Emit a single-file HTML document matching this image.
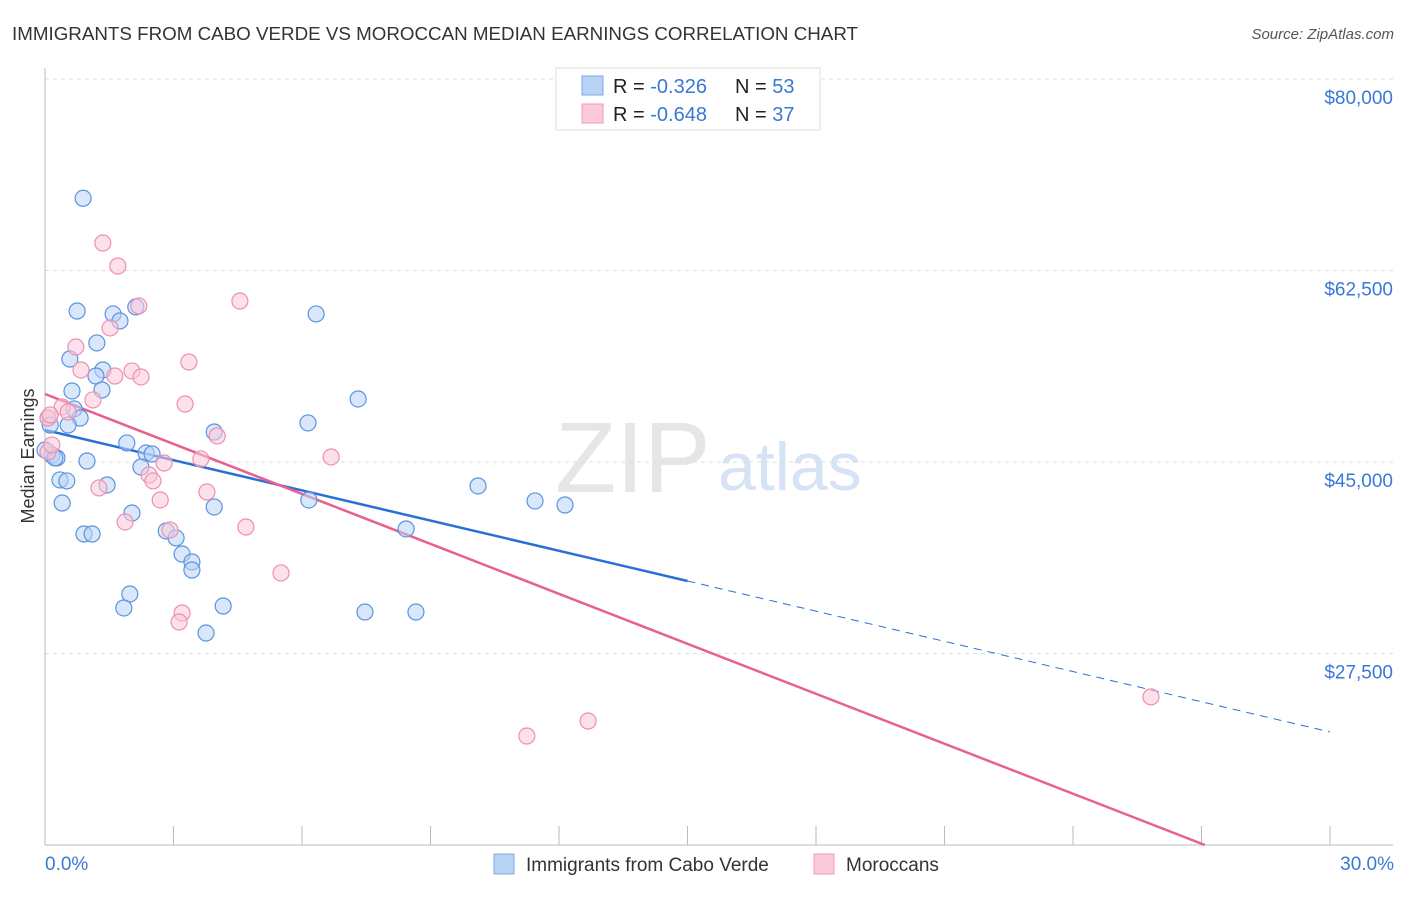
<!DOCTYPE html>
<html><head><meta charset="utf-8"><style>
body{margin:0;background:#fff;font-family:"Liberation Sans",sans-serif;}
svg text{font-family:"Liberation Sans",sans-serif;}
</style></head><body>
<svg id="chart" width="1406" height="892" xmlns="http://www.w3.org/2000/svg">
<text x="12" y="40" font-size="18" fill="#333" textLength="846" lengthAdjust="spacingAndGlyphs">IMMIGRANTS FROM CABO VERDE VS MOROCCAN MEDIAN EARNINGS CORRELATION CHART</text>
<text x="1394" y="39" font-size="15" fill="#555" font-style="italic" text-anchor="end">Source: ZipAtlas.com</text>
<text x="34" y="456" font-size="18" fill="#333" text-anchor="middle" transform="rotate(-90 34 456)">Median Earnings</text>
<text x="555" y="492" font-size="100" fill="#e6e6e6" font-family="Liberation Serif">ZIP</text>
<text x="718" y="490" font-size="68" fill="#d6e3f4">atlas</text>
<g id="grid"></g><g id="axes"></g><g id="lines"></g><g id="pts"></g>
<g>
<rect x="556" y="68" width="264" height="62" fill="#fff" stroke="#ddd"/>
<rect x="582" y="76" width="21" height="19" fill="#b9d3f5" stroke="#7aa7e6"/>
<rect x="582" y="104" width="21" height="19" fill="#fbc9d8" stroke="#f09ab5"/>
<text x="613" y="93" font-size="20" fill="#222">R = <tspan fill="#3a78d6">-0.326</tspan><tspan x="735">N = </tspan><tspan fill="#3a78d6">53</tspan></text>
<text x="613" y="121" font-size="20" fill="#222">R = <tspan fill="#3a78d6">-0.648</tspan><tspan x="735">N = </tspan><tspan fill="#3a78d6">37</tspan></text>
</g>
<g>
<rect x="494" y="854" width="20" height="20" fill="#b9d3f5" stroke="#7aa7e6"/>
<text x="526" y="871" font-size="19" fill="#333">Immigrants from Cabo Verde</text>
<rect x="814" y="854" width="20" height="20" fill="#fbc9d8" stroke="#f09ab5"/>
<text x="846" y="871" font-size="19" fill="#333">Moroccans</text>
</g>
<text x="45" y="870" font-size="19" fill="#3a78d6">0.0%</text>
<text x="1394" y="870" font-size="19" fill="#3a78d6" text-anchor="end">30.0%</text>
</svg>
<script>
const yTicks=[80000,62500,45000,27500];
const yTickLabels=["$80,000","$62,500","$45,000","$27,500"];
const blueX=[0.89,0.75,1.59,1.75,2.12,6.33,1.21,0.58,1.35,1.19,0.63,1.33,0.68,0.82,0.07,7.31,6.14,3.95,1.91,0.16,0.28,0.98,2.36,2.50,2.24,0.35,0.51,1.45,0.40,6.16,3.95,2.03,10.11,11.44,12.14,8.43,0.91,1.10,2.83,3.06,3.20,3.43,3.43,1.98,1.84,4.16,7.47,8.66,3.76,0.0,0.23,0.12,0.54];
const blueY=[69100,58800,58530,57890,59170,58530,55880,54410,53410,52860,51490,51580,49850,49020,49020,50760,48570,47740,46740,45640,45370,45090,45820,45730,44540,43360,43270,42900,41250,41530,40890,40340,42810,41440,41070,38880,38420,38420,38700,38060,36590,35860,35130,32940,31660,31840,31290,31290,29370,46100,45370,48380,48380];
const pinkX=[1.35,1.70,2.19,4.55,1.52,0.72,3.36,0.84,1.63,2.03,2.24,3.27,1.12,0.40,0.54,0.07,4.02,0.07,3.64,2.78,2.43,2.52,3.78,1.26,2.69,6.68,4.69,1.87,2.92,5.51,3.20,3.13,11.25,12.68,25.82,0.16,0.12];
const pinkY=[65010,62910,59260,59710,57250,55510,54140,53410,52860,53320,52770,50300,50670,50030,49570,49020,47380,45920,45280,44910,43810,43270,42260,42630,41530,45460,39060,39520,38790,34860,31200,30380,19960,21330,23530,46560,49300];
const blueTrend=[47925,-919.8];
const pinkTrend=[51215,-1522];
const NS="http://www.w3.org/2000/svg";
const X=v=>45+v*42.833;
const Y=v=>79+(80000-v)/17500*191.5;
function mk(t,a,p){const e=document.createElementNS(NS,t);for(const k in a)e.setAttribute(k,a[k]);document.getElementById(p).appendChild(e);return e;}
yTicks.forEach((t,i)=>{
 const l=mk('line',{x1:45,x2:1393,y1:Y(t),y2:Y(t),stroke:'#ddd','stroke-dasharray':'4,4'},'grid');
 
 
 const tx=mk('text',{x:1393,y:Y(t)+25,'font-size':19,fill:'#3a78d6','text-anchor':'end'},'grid');
 tx.textContent=yTickLabels[i];
 
 
});
const a1=mk('line',{x1:45,x2:45,y1:68,y2:845,stroke:'#bbb'},'axes');


const a2=mk('line',{x1:45,x2:1393,y1:845,y2:845,stroke:'#bbb'},'axes');


for(let i=0;i<=10;i++){const t=mk('line',{x1:X(i*3),x2:X(i*3),y1:826,y2:845,stroke:'#bbb'},'axes');
 
 }
function dot(x,y,fill,stroke,name){const c=mk('circle',{cx:X(x),cy:Y(y),r:8,fill:fill,'fill-opacity':0.55,stroke:stroke,'stroke-width':1.2},'pts');
 
 }
blueX.forEach((x,i)=>dot(x,blueY[i],'#b9d3f5','#5b93e0','cabo-verde-point'));
pinkX.forEach((x,i)=>dot(x,pinkY[i],'#fbc9d8','#ee8fae','moroccan-point'));
const tb=x=>blueTrend[0]+blueTrend[1]*x, tp=x=>pinkTrend[0]+pinkTrend[1]*x;
const l1=mk('line',{x1:X(0),y1:Y(tb(0)),x2:X(15),y2:Y(tb(15)),stroke:'#2a6fd8','stroke-width':2.5},'lines');


const l2=mk('line',{x1:X(15),y1:Y(tb(15)),x2:X(30),y2:Y(tb(30)),stroke:'#2a6fd8','stroke-width':1,'stroke-dasharray':'8,6'},'lines');


const xe=(10000-pinkTrend[0])/pinkTrend[1];
const l3=mk('line',{x1:X(0),y1:Y(tp(0)),x2:X(xe),y2:Y(tp(xe)),stroke:'#e8608e','stroke-width':2.5},'lines');


</script>
</body></html>
